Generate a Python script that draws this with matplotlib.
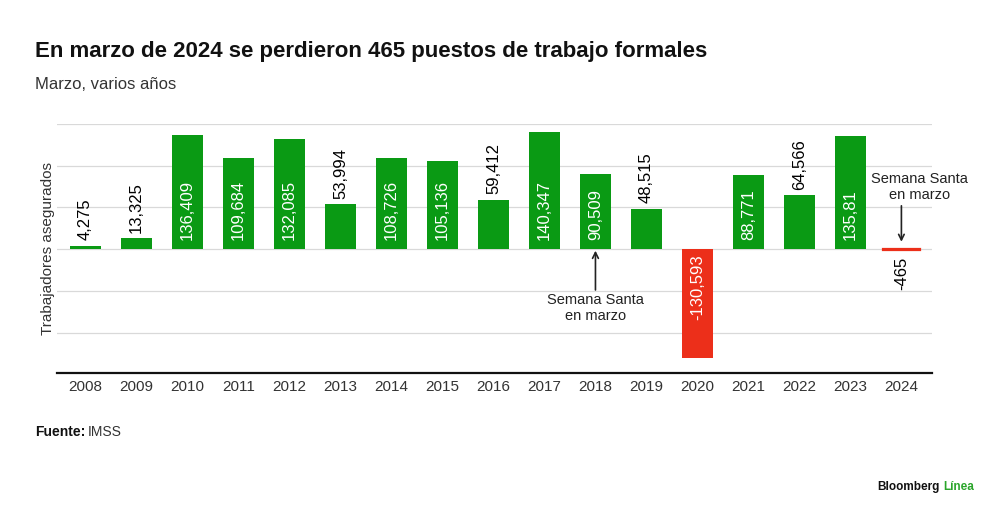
import matplotlib.pyplot as plt
import numpy as np

plt.rcParams['font.family'] = ['Liberation Sans', 'DejaVu Sans']

years = ['2008', '2009', '2010', '2011', '2012', '2013', '2014', '2015', '2016',
         '2017', '2018', '2019', '2020', '2021', '2022', '2023', '2024']
values = [4275, 13325, 136409, 109684, 132085, 53994, 108726, 105136, 59412,
          140347, 90509, 48515, -130593, 88771, 64566, 135811, -465]
labels = ['4,275', '13,325', '136,409', '109,684', '132,085', '53,994', '108,726',
          '105,136', '59,412', '140,347', '90,509', '48,515', '-130,593', '88,771',
          '64,566', '135,81', '-465']
inside = [False, False, True, True, True, False, True, True, False,
          True, True, False, True, True, False, True, False]

GREEN = '#0a9a14'
RED = '#ec2f1a'

fig = plt.figure(figsize=(10, 5.12), dpi=100)
ax = fig.add_axes([0.057, 0.2715, 0.875, 0.4865])

x = np.arange(len(years))
colors = [GREEN if v >= 0 else RED for v in values]
ax.bar(x[:-1], values[:-1], width=0.6, color=colors[:-1], zorder=3)
# 2024 is tiny, draw it as a thick red line like the original
ax.bar(x[-1:], values[-1:], width=0.72, color=RED, edgecolor=RED, linewidth=1.6, zorder=3)

ax.set_xlim(-0.56, 16.6)
ax.set_ylim(-148000, 150000)
ax.set_yticks([-100000, -50000, 0, 50000, 100000, 150000])
ax.set_yticklabels([])
ax.tick_params(axis='y', length=0)
ax.grid(axis='y', color='#d9d9d9', linewidth=0.9, zorder=0)
ax.set_xticks(x)
ax.set_xticklabels(years, fontsize=11, color='#333333')
ax.tick_params(axis='x', length=0, pad=5)
for s in ['top', 'right', 'left']:
    ax.spines[s].set_visible(False)
ax.spines['bottom'].set_color('#111111')
ax.spines['bottom'].set_linewidth(1.6)
ax.set_ylabel('Trabajadores asegurados', fontsize=11, color='#333333', labelpad=-2)

for xi, v, lab, ins in zip(x, values, labels, inside):
    if ins:
        if v >= 0:
            ax.annotate(lab, (xi, 0), xytext=(0, 7), textcoords='offset points',
                        rotation=90, ha='center', va='bottom', color='white', fontsize=12, zorder=4)
        else:
            ax.annotate(lab, (xi, 0), xytext=(0, -4), textcoords='offset points',
                        rotation=90, ha='center', va='top', color='white', fontsize=12, zorder=4)
    else:
        if v >= 0:
            ax.annotate(lab, (xi, v), xytext=(0, 4), textcoords='offset points',
                        rotation=90, ha='center', va='bottom', color='black', fontsize=12, zorder=4)
        else:
            ax.annotate(lab, (xi, v), xytext=(0, -5), textcoords='offset points',
                        rotation=90, ha='center', va='top', color='black', fontsize=12, zorder=4)

# Semana Santa notes
ax.annotate('Semana Santa\nen marzo', xy=(10, 0), xytext=(10, -52000),
            ha='center', va='top', fontsize=10.5, color='#222222', linespacing=1.2,
            arrowprops=dict(arrowstyle='->', color='#222222', lw=1.2, shrinkA=0, shrinkB=1))
ax.annotate('Semana Santa\nen marzo', xy=(16, 9000), xytext=(16.35, 56000),
            ha='center', va='bottom', fontsize=10.5, color='#222222', linespacing=1.2)
ax.annotate('', xy=(16, 9000), xytext=(16, 52000),
            arrowprops=dict(arrowstyle='->', color='#222222', lw=1.2, shrinkA=0, shrinkB=0))

fig.text(0.035, 0.9, 'En marzo de 2024 se perdieron 465 puestos de trabajo formales',
         fontsize=16, fontweight='bold', color='#111111', va='center')
fig.text(0.035, 0.834, 'Marzo, varios años', fontsize=12, color='#333333', va='center')
fig.text(0.035, 0.156, 'Fuente:', fontsize=10, fontweight='bold', color='#111111', va='center')
fig.text(0.088, 0.156, 'IMSS', fontsize=10, color='#333333', va='center')
fig.text(0.943, 0.049, 'Línea', fontsize=8.5, color='#2aa52a', va='center', ha='left',
         fontweight='bold')
fig.text(0.94, 0.049, 'Bloomberg', fontsize=8.5, color='#111111', va='center', ha='right',
         fontweight='bold')

plt.savefig('out.png', dpi=100)
